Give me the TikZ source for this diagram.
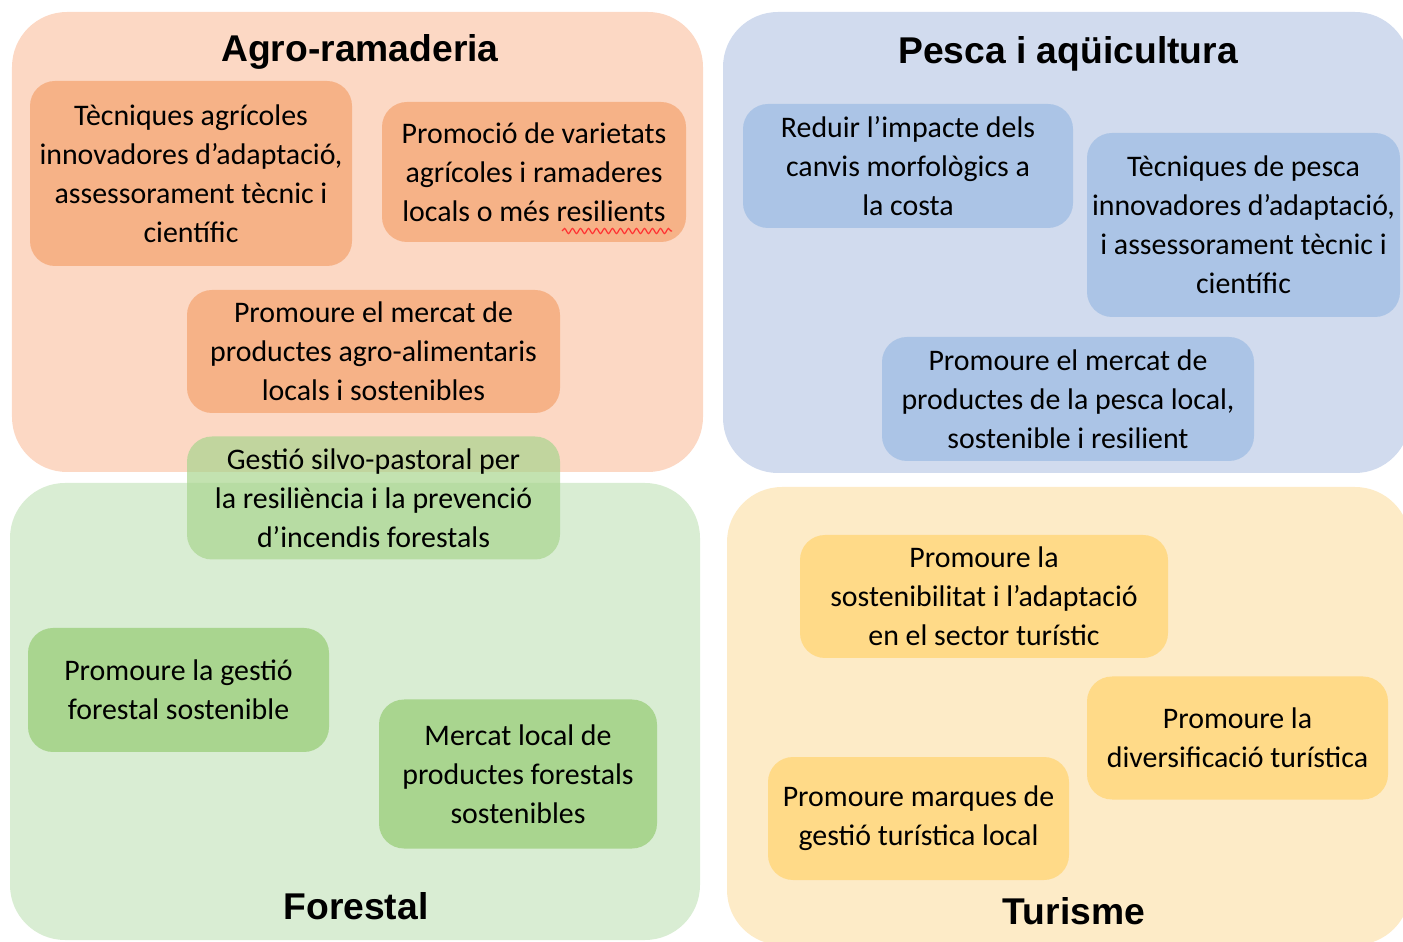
\documentclass[tikz,border=0pt]{standalone}
\usepackage{fontspec}
\setmainfont{Carlito}
\newfontfamily\titlefont{Liberation Sans}
\usetikzlibrary{decorations.pathmorphing}
\definecolor{agrobg}{HTML}{FCD8C4}
\definecolor{agrobox}{HTML}{F6B287}
\definecolor{pescabg}{HTML}{D1DBEE}
\definecolor{pescabox}{HTML}{ABC4E6}
\definecolor{forbg}{HTML}{D9EDD3}
\definecolor{forbox}{HTML}{A9D58F}
\definecolor{turbg}{HTML}{FDEBC7}
\definecolor{turbox}{HTML}{FFDA88}

\begin{document}
\begin{tikzpicture}[
    every node/.style={font=\fontsize{8.5}{11.1}\selectfont, align=center},
    box/.style={rounded corners=0.25cm, inner sep=0pt},
    sector/.style={rounded corners=0.55cm},
    title/.style={font=\titlefont\bfseries\fontsize{10.6}{12}\selectfont}
]
    \useasboundingbox (0,0) rectangle (14.03,-9.42);
    \clip (0,0) rectangle (14.03,-9.42);

    % sectors
    \fill[sector, agrobg] (0.12,-0.12) rectangle (7.03,-4.72);
    \fill[sector, pescabg] (7.23,-0.12) rectangle (14.10,-4.73);
    \fill[sector, forbg] (0.10,-4.83) rectangle (7.00,-9.40);
    \fill[sector, turbg] (7.27,-4.87) rectangle (14.10,-9.45);

    \node[title] (agro) at (3.60,-0.52) {Agro-ramaderia};
    \node[title] (pesca) at (10.68,-0.54) {Pesca i aqüicultura};
    \node[title] (forestal) at (3.56,-9.06) {Forestal};
    \node[title] (turisme) at (10.74,-9.11) {Turisme};

    % agro-ramaderia
    \node[box, fill=agrobox, minimum width=3.22cm, minimum height=1.85cm] (tecag) at (1.91,-1.735)
        {Tècniques agrícoles\\innovadores d’adaptació,\\assessorament tècnic i\\científic};
    \node[box, fill=agrobox, minimum width=3.04cm, minimum height=1.40cm] (varie) at (5.34,-1.72)
        {Promoció de varietats\\agrícoles i ramaderes\\locals o més resilients};
    \draw[red!80, line width=0.35pt, decorate, decoration={snake, amplitude=0.25mm, segment length=0.8mm}]
        (5.62,-2.31) -- (6.72,-2.31);
    \node[box, fill=agrobox, minimum width=3.73cm, minimum height=1.23cm] (mercag) at (3.735,-3.515)
        {Promoure el mercat de\\productes agro-alimentaris\\locals i sostenibles};
    \node[box, fill=forbox, fill opacity=0.7, text opacity=1, minimum width=3.73cm, minimum height=1.23cm] (silvo) at (3.735,-4.98)
        {Gestió silvo-pastoral per\\la resiliència i la prevenció\\d’incendis forestals};

    % pesca
    \node[box, fill=pescabox, minimum width=3.30cm, minimum height=1.24cm] (reduir) at (9.08,-1.66)
        {Reduir l’impacte dels\\canvis morfològics a\\la costa};
    \node[box, fill=pescabox, minimum width=3.13cm, minimum height=1.84cm] (tecpes) at (12.435,-2.25)
        {Tècniques de pesca\\innovadores d’adaptació,\\i assessorament tècnic i\\científic};
    \node[box, fill=pescabox, minimum width=3.72cm, minimum height=1.24cm] (mercpes) at (10.68,-3.99)
        {Promoure el mercat de\\productes de la pesca local,\\sostenible i resilient};

    % forestal
    \node[box, fill=forbox, minimum width=3.01cm, minimum height=1.24cm] (gestfor) at (1.785,-6.90)
        {Promoure la gestió\\forestal sostenible};
    \node[box, fill=forbox, minimum width=2.78cm, minimum height=1.49cm] (mercfor) at (5.18,-7.74)
        {Mercat local de\\productes forestals\\sostenibles};

    % turisme
    \node[box, fill=turbox, minimum width=3.68cm, minimum height=1.23cm] (sosten) at (9.84,-5.965)
        {Promoure la\\sostenibilitat i l’adaptació\\en el sector turístic};
    \node[box, fill=turbox, minimum width=3.01cm, minimum height=1.23cm] (divers) at (12.375,-7.38)
        {Promoure la\\diversificació turística};
    \node[box, fill=turbox, minimum width=3.01cm, minimum height=1.23cm] (marques) at (9.185,-8.185)
        {Promoure marques de\\gestió turística local};
\end{tikzpicture}
\end{document}
